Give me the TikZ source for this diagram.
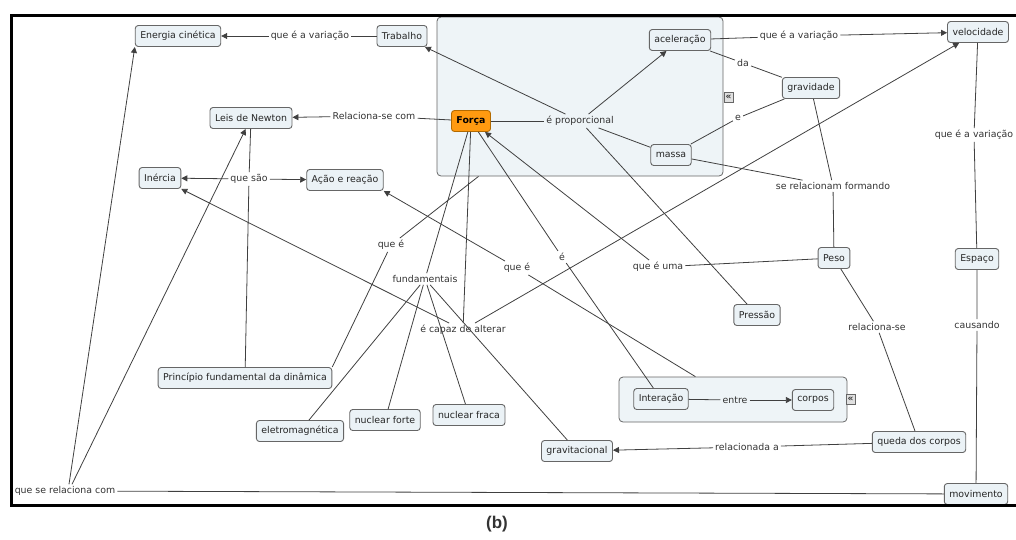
\documentclass[tikz,border=0pt]{standalone}
\usepackage{fontspec}
\setmainfont{DejaVu Sans}
\newfontfamily\capfont{Liberation Sans}
\usetikzlibrary{arrows.meta}
\definecolor{cbox}{HTML}{EBF2F6}
\definecolor{cgroup}{HTML}{EEF4F7}
\definecolor{cborder}{HTML}{666666}
\definecolor{cline}{HTML}{404040}
\definecolor{corange}{HTML}{FF9A10}
\definecolor{cdarkorange}{HTML}{B36A00}
\begin{document}
\begin{tikzpicture}[x=1pt,y=-1pt,
		concept/.style={draw=cborder,fill=cbox,rounded corners=3pt,line width=0.9pt,inner xsep=5pt,minimum height=21pt,text=black!85,font=\fontsize{9.4}{11}\selectfont},
		link/.style={inner sep=2pt,text=black!80,font=\fontsize{9.4}{11}\selectfont},
		group/.style={draw=cborder,fill=cgroup,rounded corners=4pt,line width=0.8pt,inner sep=0pt},
		icon/.style={draw=cborder,fill=black!12,inner sep=0pt,minimum width=9pt,minimum height=10pt,text=black!80,font=\fontsize{9}{9}\selectfont\bfseries},
		con/.style={draw=cline,line width=0.8pt},
		arr/.style={con,-{Triangle[length=6pt,width=6pt]}}]
		\useasboundingbox (0,0) rectangle (1016,539);
		\node[group,minimum width=286pt,minimum height=159pt] (gforca) at (580,96.5) {};
		\node[group,minimum width=228pt,minimum height=45pt] (ginter) at (733,399.5) {};
		\node[icon] (icforca) at (728.5,97) {«};
		\node[icon] (icinter) at (850.5,399.5) {«};
		\node[concept] (ecin) at (178,36) {Energia cinética};
		\node[concept] (trab) at (402,36) {Trabalho};
		\node[concept] (acel) at (680,40) {aceleração};
		\node[concept] (veloc) at (978,32) {velocidade};
		\node[concept] (grav) at (811,88) {gravidade};
		\node[concept,fill=corange,draw=cdarkorange,text=black,font=\fontsize{9.4}{11}\selectfont\bfseries] (forca) at (471,121) {Força};
		\node[concept] (leis) at (251,118) {Leis de Newton};
		\node[concept] (massa) at (671,155) {massa};
		\node[concept] (inerc) at (160,178) {Inércia};
		\node[concept] (acao) at (345,180) {Ação e reação};
		\node[concept] (peso) at (834,258) {Peso};
		\node[concept] (esp) at (977,259) {Espaço};
		\node[concept] (press) at (757,315) {Pressão};
		\node[concept] (princ) at (245,378) {Princípio fundamental da dinâmica};
		\node[concept] (inter) at (661,399) {Interação};
		\node[concept] (corpos) at (813,400) {corpos};
		\node[concept] (nforte) at (385,420) {nuclear forte};
		\node[concept] (nfraca) at (469,415) {nuclear fraca};
		\node[concept] (eletro) at (300,431) {eletromagnética};
		\node[concept] (gravit) at (577,451) {gravitacional};
		\node[concept] (queda) at (919,442) {queda dos corpos};
		\node[concept] (movim) at (976,494) {movimento};
		\node[link] (lvarA) at (310,36) {que é a variação};
		\node[link] (lvarB) at (799,36) {que é a variação};
		\node[link] (lvarC) at (974,135) {que é a variação};
		\node[link] (lda) at (743,63) {da};
		\node[link] (le) at (738,118) {e};
		\node[link] (lprop) at (580,121) {é proporcional};
		\node[link] (lrel) at (374,116) {Relaciona-se com};
		\node[link] (lsao) at (249,179) {que são};
		\node[link] (lform) at (833,186) {se relacionam formando};
		\node[link] (lqueA) at (391,245) {que é};
		\node[link] (lqueB) at (517,268) {que é};
		\node[link] (lfund) at (425,279) {fundamentais};
		\node[link] (lsubst) at (562,257) {é};
		\node[link] (luma) at (658,267) {que é uma};
		\node[link] (lcap) at (463,330) {é capaz de alterar};
		\node[link] (lrelse) at (877,327) {relaciona-se};
		\node[link] (lcaus) at (977,325) {causando};
		\node[link] (lentre) at (735,400) {entre};
		\node[link] (lrelad) at (747,447) {relacionada a};
		\node[link] (lqsrc) at (65,491) {que se relaciona com};
		\draw[con] (trab) -- (lvarA);
		\draw[arr] (lvarA) -- (ecin);
		\draw[con] (acel) -- (lvarB);
		\draw[arr] (lvarB) -- (veloc);
		\draw[con] (acel) -- (lda) -- (grav);
		\draw[con] (grav) -- (le) -- (massa);
		\draw[con] (grav) -- (lform);
		\draw[con] (massa) -- (lform);
		\draw[con] (lform) -- (peso);
		\draw[con] (forca) -- (lprop);
		\draw[arr] (lprop) -- (acel);
		\draw[arr] (lprop) -- (trab);
		\draw[con] (lprop) -- (massa);
		\draw[con] (lprop) -- (press);
		\draw[con] (forca) -- (lrel);
		\draw[arr] (lrel) -- (leis);
		\draw[con] (leis) -- (lsao);
		\draw[arr] (lsao) -- (inerc);
		\draw[arr] (lsao) -- (acao);
		\draw[con] (lsao) -- (princ);
		\draw[con] (gforca) -- (lqueA) -- (princ.north east);
		\draw[con] (forca) -- (lfund);
		\foreach \n in {eletro,nforte,nfraca,gravit}
			\draw[con] (lfund) -- (\n);
		\draw[con] (forca) -- (lsubst) -- (inter);
		\draw[con] (ginter) -- (lqueB);
		\draw[arr] (lqueB) -- (acao.south east);
		\draw[con] (peso) -- (luma);
		\draw[arr] (luma) -- (forca);
		\draw[con] (forca) -- (lcap);
		\draw[arr] (lcap) -- (veloc);
		\draw[arr] (lcap) -- (inerc.south east);
		\draw[con] (inter) -- (lentre);
		\draw[arr] (lentre) -- (corpos);
		\draw[con] (peso) -- (lrelse) -- (queda);
		\draw[con] (queda) -- (lrelad);
		\draw[arr] (lrelad) -- (gravit);
		\draw[con] (veloc) -- (lvarC) -- (esp);
		\draw[con] (esp) -- (lcaus) -- (movim);
		\draw[con] (movim) -- (lqsrc);
		\draw[arr] ([xshift=4pt]lqsrc.north) -- (ecin.south west);
		\draw[arr] ([xshift=7pt]lqsrc.north) -- (leis);
		\draw[line width=2.5pt] (11.5,15.5) rectangle (1030,505.5);
		\node[font=\capfont\bfseries\fontsize{17}{20}\selectfont,text=black!80] (cap) at (497,524) {(b)};
	\end{tikzpicture}
\end{document}
